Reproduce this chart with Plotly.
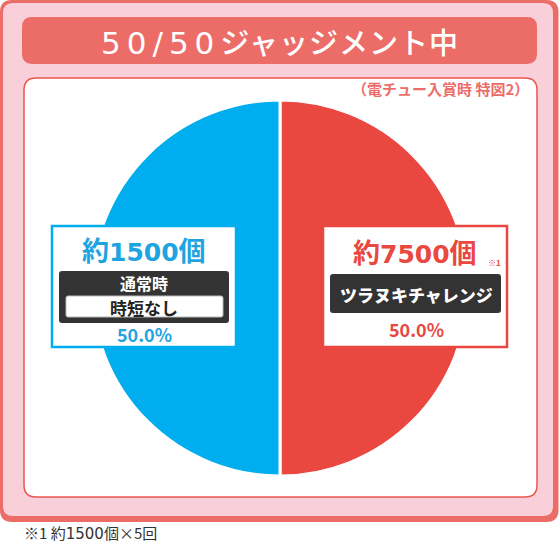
import plotly.graph_objects as go

W, H = 560, 543

# ---- data ----
slice_labels = ["ツラヌキチャレンジ", "通常時 時短なし"]
slice_values = [50.0, 50.0]
slice_colors = ["#e9473f", "#00aeef"]

title_num = "50/50"
title_rest = "ジャッジメント中"
note_text = "（電チュー入賞時 特図2）"
left_num = "1500"
left_mode = "通常時"
left_sub = "時短なし"
right_num = "7500"
right_mode = "ツラヌキチャレンジ"
foot_mark = "※1 約"
foot_num = "1500"
foot_rest = "個×5回"

FONT = "Noto Sans CJK JP"


def px(x):
    return x / W


def py(y):
    return 1 - y / H


def rrect(x0, y0, x1, y1, r):
    pts = [
        ("M", x0 + r, y0), ("L", x1 - r, y0), ("Q", x1, y0, x1, y0 + r),
        ("L", x1, y1 - r), ("Q", x1, y1, x1 - r, y1),
        ("L", x0 + r, y1), ("Q", x0, y1, x0, y1 - r),
        ("L", x0, y0 + r), ("Q", x0, y0, x0 + r, y0),
    ]
    s = ""
    for p in pts:
        cmd = p[0]
        coords = p[1:]
        parts = []
        for i in range(0, len(coords), 2):
            parts.append(f"{px(coords[i]):.5f},{py(coords[i+1]):.5f}")
        s += cmd + " " + " ".join(parts) + " "
    return s + "Z"


def box(x0, y0, x1, y1, r, fill, line=None, lw=0, layer="below"):
    return dict(type="path", path=rrect(x0, y0, x1, y1, r), xref="paper", yref="paper",
                fillcolor=fill, line=dict(color=line or fill, width=lw), layer=layer)


shapes = [
    box(0, 0, 558.5, 522, 12, "#ec6d68"),
    box(3, 3, 553, 516, 10, "#f9d0da"),
    box(22, 17, 537, 64, 10, "#ec6d68"),
    box(24, 78, 537, 497, 12, "#ffffff", "#ea5550", 1.5),
    # left label box
    box(52, 226, 236, 347, 0, "#ffffff", "#00aeef", 2.5, "above"),
    box(59, 271, 229, 323, 3, "#333333", layer="above"),
    box(66, 296, 223, 317, 2, "#ffffff", "#bbbbbb", 1, "above"),
    # right label box
    box(323, 226, 507, 347, 0, "#ffffff", "#e9473f", 2.5, "above"),
    box(330, 274, 501, 313, 3, "#333333", layer="above"),
]

fig = go.Figure()
cx, cy, R = 280, 288, 188
fig.add_trace(go.Pie(
    labels=slice_labels, values=slice_values, sort=False, direction="clockwise",
    rotation=0, marker=dict(colors=slice_colors, line=dict(color="#ffffff", width=3)),
    textinfo="none", hoverinfo="skip", showlegend=False,
    domain=dict(x=[px(cx - R), px(cx + R)], y=[py(cy + R), py(cy - R)]),
))


def ann(text, x, y, size, color, bold=True, xanchor="center", weight=None, pad=1):
    return dict(text=text, x=px(x), y=py(y), xref="paper", yref="paper", showarrow=False,
                xanchor=xanchor, yanchor="middle", borderpad=pad,
                font=dict(family=FONT, size=size, color=color,
                          weight=weight if weight else (700 if bold else 400)))


def count_text(num):
    return ("約<span style=\"font-family:'DejaVu Sans';font-size:25px\">"
            + num + "</span>個")


title_html = ("<span style=\"font-family:'DejaVu Sans';font-size:31px;letter-spacing:6px\">"
              + title_num + "</span>"
              + "<span style=\"letter-spacing:1px\">" + title_rest + "</span>")

foot_html = (foot_mark + "<span style=\"font-family:'DejaVu Sans';font-size:15px\">"
             + foot_num + "</span>" + foot_rest)

annotations = [
    ann(title_html, 280, 41, 29, "#ffffff", weight=500),
    ann(note_text, 531, 88, 15, "#ec6d68", xanchor="right"),
    ann(count_text(left_num), 144, 250, 27, "#1ea4e0"),
    ann(left_mode, 144, 283, 16, "#ffffff"),
    ann(left_sub, 144, 307, 17, "#222222"),
    ann(f"{slice_values[1]:.1f}%", 144, 334, 18, "#1ea4e0"),
    ann(count_text(right_num), 415, 252, 27, "#e9473f"),
    ann("※1", 486, 262, 8, "#e9473f", xanchor="left"),
    ann(right_mode, 416, 294, 17, "#ffffff", weight=900),
    ann(f"{slice_values[0]:.1f}%", 416, 329, 18, "#e9473f"),
    ann(foot_html, 23, 532, 15, "#333333", bold=False, xanchor="left", pad=0),
]

fig.update_layout(
    width=W, height=H, margin=dict(l=0, r=0, t=0, b=0),
    paper_bgcolor="#ffffff", plot_bgcolor="#ffffff",
    shapes=shapes, annotations=annotations,
)
fig.write_html("out.html", config={"displayModeBar": False},
               post_script="document.body.style.margin='0';")
